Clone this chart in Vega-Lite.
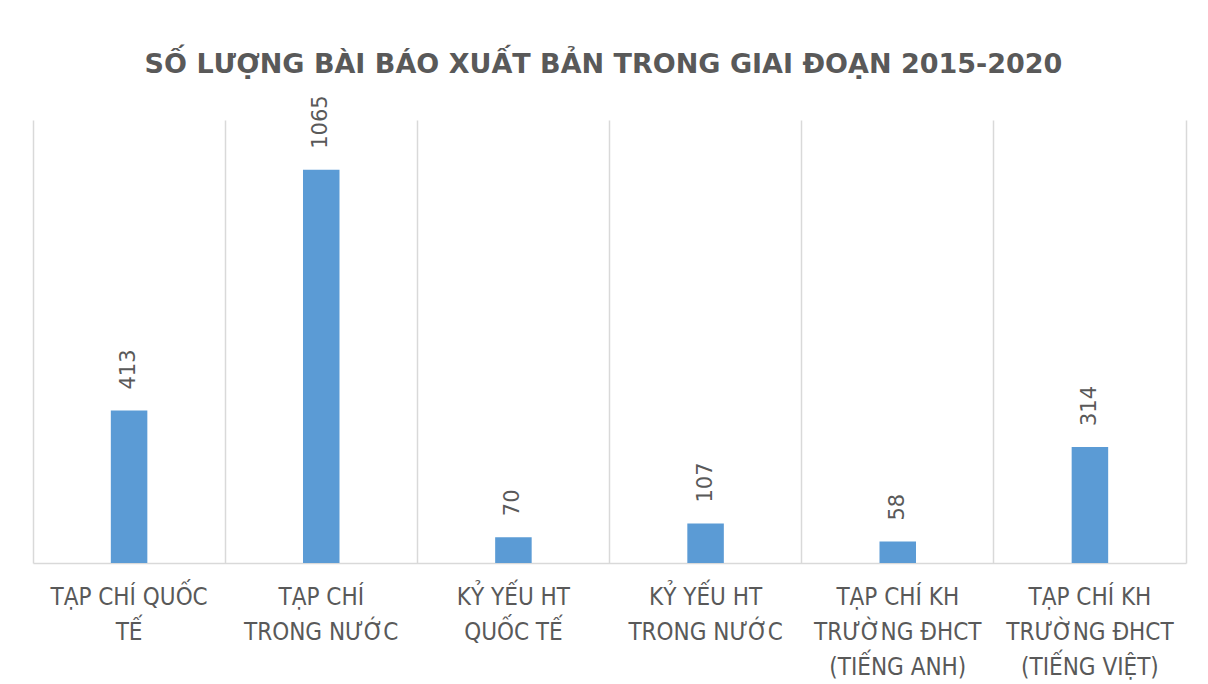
{
  "$schema": "https://vega.github.io/schema/vega-lite/v6.json",
  "width": 1153,
  "height": 443,
  "autosize": {"type": "none"},
  "padding": {"left": 33, "top": 120, "right": 22, "bottom": 121},
  "background": "white",
  "title": {
    "text": "SỐ LƯỢNG BÀI BÁO XUẤT BẢN TRONG GIAI ĐOẠN 2015-2020",
    "font": "DejaVu Sans",
    "fontSize": 27,
    "fontWeight": "bold",
    "color": "#595959",
    "anchor": "middle",
    "offset": 16,
    "dx": -6
  },
  "config": {"view": {"stroke": null}},
  "data": {
    "values": [
      {"category": "TẠP CHÍ QUỐC\nTẾ", "count": 413},
      {"category": "TẠP CHÍ\nTRONG NƯỚC", "count": 1065},
      {"category": "KỶ YẾU HT\nQUỐC TẾ", "count": 70},
      {"category": "KỶ YẾU HT\nTRONG NƯỚC", "count": 107},
      {"category": "TẠP CHÍ KH\nTRƯỜNG ĐHCT\n(TIẾNG ANH)", "count": 58},
      {"category": "TẠP CHÍ KH\nTRƯỜNG ĐHCT\n(TIẾNG VIỆT)", "count": 314}
    ]
  },
  "encoding": {
    "x": {
      "field": "category",
      "type": "nominal",
      "sort": null,
      "scale": {"paddingInner": 0, "paddingOuter": 0},
      "axis": {
        "title": null,
        "orient": "bottom",
        "grid": true,
        "bandPosition": 0,
        "gridColor": "#d9d9d9",
        "gridWidth": 1.5,
        "ticks": false,
        "domainColor": "#d9d9d9",
        "domainWidth": 1.5,
        "labelAngle": 0,
        "labelFont": "DejaVu Sans Condensed",
        "labelFontSize": 24,
        "labelColor": "#595959",
        "labelLineHeight": 35,
        "labelPadding": 22,
        "labelBaseline": "top",
        "labelLimit": 0,
        "labelOverlap": false,
        "labelBound": false,
        "labelExpr": "split(datum.value, '\\n')"
      }
    },
    "y": {
      "field": "count",
      "type": "quantitative",
      "scale": {"domain": [0, 1200]},
      "axis": {
        "orient": "right",
        "title": null,
        "labels": false,
        "ticks": false,
        "grid": false,
        "domain": true,
        "domainColor": "#d9d9d9",
        "domainWidth": 1.5
      }
    }
  },
  "layer": [
    {"mark": {"type": "bar", "color": "#5b9bd5", "width": {"band": 0.19}}},
    {
      "mark": {
        "type": "text",
        "angle": 270,
        "align": "left",
        "baseline": "middle",
        "dx": 21,
        "font": "DejaVu Sans",
        "fontSize": 21,
        "color": "#595959"
      },
      "encoding": {"text": {"field": "count", "type": "quantitative"}}
    }
  ]
}
